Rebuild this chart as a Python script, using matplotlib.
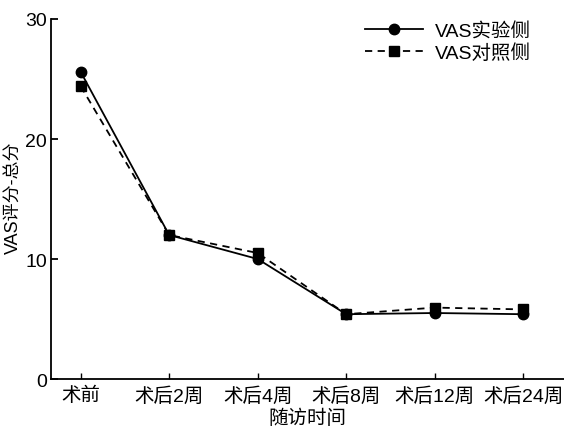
import matplotlib
matplotlib.use("Agg")
import matplotlib.pyplot as plt

plt.rcParams['font.family'] = ['Liberation Sans', 'Noto Sans CJK SC', 'DejaVu Sans']

# data
timepoints = ["术前", "术后2周", "术后4周", "术后8周", "术后12周", "术后24周"]
vas_exp = [25.6, 12.0, 10.0, 5.4, 5.5, 5.4]
vas_ctrl = [24.4, 12.0, 10.5, 5.4, 5.95, 5.8]
yticks = [0, 10, 20, 30]

fig = plt.figure(figsize=(5.64, 4.31), dpi=100)
ax = fig.add_axes([0.0904, 0.1183, 0.9096, 0.8353])

x = list(range(len(timepoints)))
ax.plot(x, vas_exp, color="black", lw=1.3, marker="o", markersize=7.5,
        label="VAS实验侧")
ax.plot(x, vas_ctrl, color="black", lw=1.3, ls=(0, (4, 3)), marker="s",
        markersize=6.5, label="VAS对照侧")

ax.set_xlim(-0.335, 5.46)
ax.set_ylim(0, 30)
ax.set_yticks(yticks)
ax.set_xticks(x)
ax.set_xticklabels(timepoints)

for side in ["top", "right"]:
    ax.spines[side].set_visible(False)
for side in ["left", "bottom"]:
    ax.spines[side].set_linewidth(1.3)

ax.tick_params(axis="x", direction="in", length=4, width=1, labelsize=14, pad=5)
ax.tick_params(axis="y", direction="in", length=5, width=1.3, labelsize=14, pad=3)

ax.set_xlabel("随访时间", fontsize=14, labelpad=3)
# y label placed by hand so it is not cut at the left edge
fig.text(14 / 564, 1 - 198 / 431, "VAS评分-总分", fontsize=13, rotation=90,
         ha="center", va="center")

ax.legend(loc="upper right", bbox_to_anchor=(0.97, 1.04), frameon=False,
          fontsize=14, handlelength=3.0, handletextpad=0.6, labelspacing=0.15)

fig.savefig("out.png", dpi=100)
